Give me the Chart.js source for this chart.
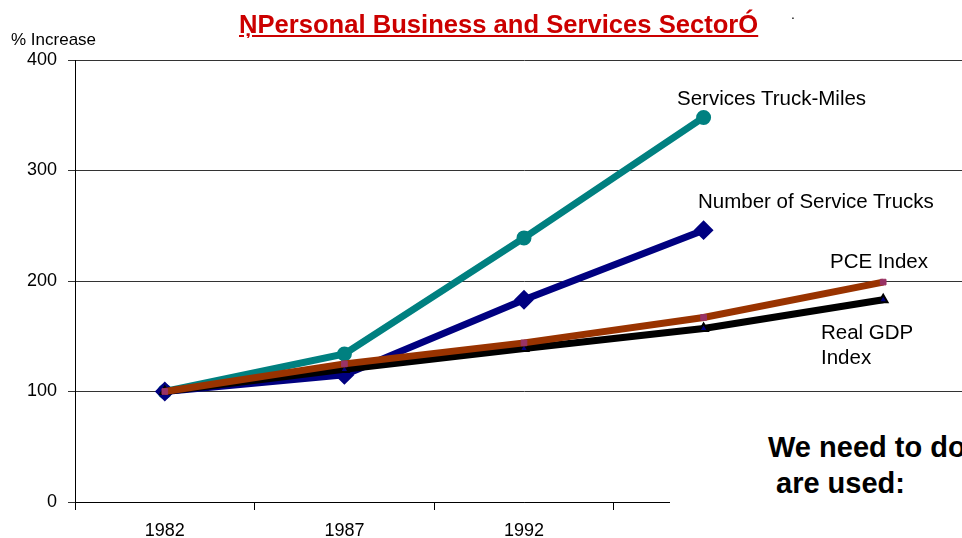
<!DOCTYPE html>
<html>
<head>
<meta charset="utf-8">
<script src="https://cdn.jsdelivr.net/npm/chart.js@4"></script>
<style>
  body { margin: 0; width: 962px; height: 538px; overflow: hidden; background: #fff; font-family: "Liberation Sans", Arial, sans-serif; }
  #wrap { position: absolute; left: 0; top: 0; width: 985px; height: 538px; }
  #titel { position: absolute; left: 239px; top: 10px; font: bold 25.6px "Liberation Sans", Arial, sans-serif; color: #cc0000; text-decoration: underline; white-space: nowrap; }
  #punkt { position: absolute; left: 791px; top: 6px; font: 14px "Liberation Sans", Arial, sans-serif; color: #000; }
  #yTitel { position: absolute; left: 11px; top: 30px; font: 17px "Liberation Sans", Arial, sans-serif; color: #000; }
  .lbl { position: absolute; font: 20.5px "Liberation Sans", Arial, sans-serif; color: #000; white-space: nowrap; line-height: 25px; }
  #kasten { position: absolute; left: 670px; top: 404px; width: 300px; height: 140px; background: #fff; }
  #kasten div { position: absolute; font: bold 29px "Liberation Sans", Arial, sans-serif; color: #000; white-space: nowrap; }
</style>
</head>
<body>
<div id="wrap"><canvas id="aareChart"></canvas></div>
<div id="titel">ŅPersonal Business and Services SectorÓ</div>
<div id="punkt">.</div>
<div id="yTitel">% Increase</div>
<div class="lbl" style="left:677px; top:85px;">Services Truck-Miles</div>
<div class="lbl" style="left:698px; top:188px;">Number of Service Trucks</div>
<div class="lbl" style="left:830px; top:248px;">PCE Index</div>
<div class="lbl" style="left:821px; top:319px;">Real GDP<br>Index</div>
<div id="kasten">
  <div style="left:98px; top:27px;">We need to do</div>
  <div style="left:106px; top:63px;">are used:</div>
</div>
<script>
// Daten
const jahre = ['1982', '1987', '1992', '1997', '2002'];
const truckMiles = [100, 134, 239, 348, null];
const serviceTrucks = [100, 115, 183, 246, null];
const pceIndex = [100, 125, 144, 167, 199];
const realGdp = [100, 120, 139, 157, 183];
const yTicks = [0, 100, 200, 300, 400];

const FONT = '"Liberation Sans", Arial, sans-serif';

const data = {
  labels: jahre,
  datasets: [
    {
      label: 'Services Truck-Miles',
      data: truckMiles,
      borderColor: '#008080',
      backgroundColor: '#008080',
      borderWidth: 7,
      pointStyle: 'circle',
      pointRadius: 4,
      order: 4
    },
    {
      label: 'Number of Service Trucks',
      data: serviceTrucks,
      borderColor: '#000080',
      backgroundColor: '#000080',
      borderWidth: 7,
      pointStyle: 'rectRot',
      pointRadius: 5,
      order: 3
    },
    {
      label: 'Real GDP Index',
      data: realGdp,
      borderColor: '#000000',
      backgroundColor: '#000080',
      borderWidth: 7,
      pointStyle: 'triangle',
      pointRadius: 5,
      pointBorderWidth: 2,
      order: 2
    },
    {
      label: 'PCE Index',
      data: pceIndex,
      borderColor: '#993300',
      backgroundColor: '#993366',
      borderWidth: 7,
      pointStyle: 'rect',
      pointRadius: 4,
      pointBorderColor: '#993366',
      pointBorderWidth: 1,
      order: 1
    }
  ]
};

const config = {
  type: 'line',
  data: data,
  options: {
    responsive: true,
    maintainAspectRatio: false,
    animation: false,
    layout: { padding: { top: 60, right: 0, left: 0, bottom: 0 } },
    plugins: {
      legend: { display: false },
      title: { display: false },
      tooltip: { enabled: false }
    },
    scales: {
      x: {
        type: 'category',
        offset: true,
        grid: { offset: true, drawOnChartArea: false, color: '#000', tickLength: 8, lineWidth: 1 },
        border: { color: '#000', width: 1 },
        ticks: { color: '#000', font: { family: FONT, size: 18 }, padding: 10, maxRotation: 0 },
        afterFit: s => { s.height = 36; }
      },
      y: {
        min: 0,
        max: 400,
        afterBuildTicks: s => { s.ticks = yTicks.map(v => ({ value: v })); },
        grid: { color: '#333', tickLength: 7, lineWidth: 1 },
        border: { color: '#000', width: 1 },
        ticks: { color: '#000', font: { family: FONT, size: 18 }, padding: 11 },
        afterFit: s => { s.width = 75; }
      }
    }
  }
};

const chart = new Chart(document.getElementById('aareChart'), config);
</script>
</body>
</html>
